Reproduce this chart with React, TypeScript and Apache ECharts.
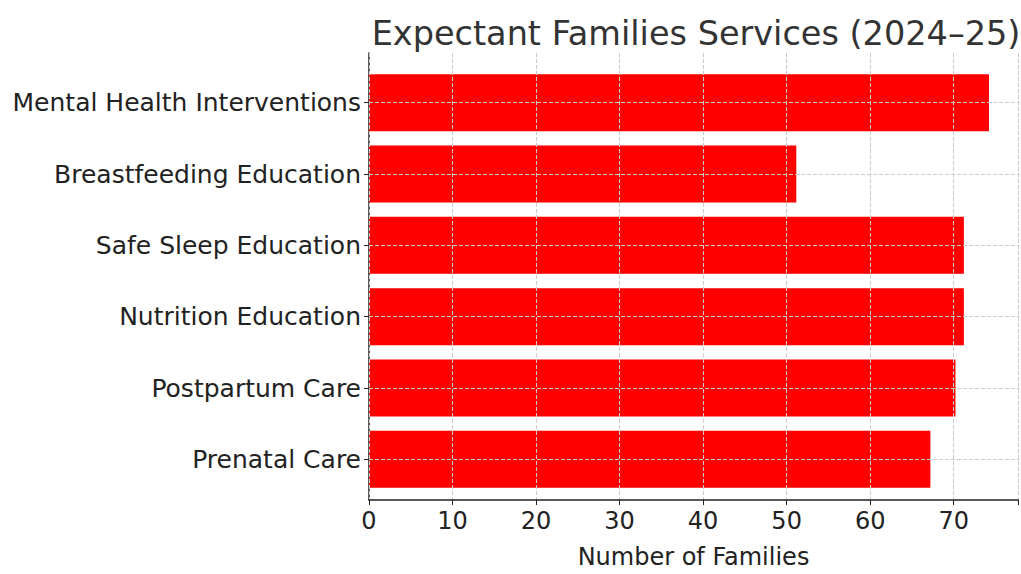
import React, { useEffect, useRef } from "react";
import * as echarts from "echarts";

const categories = [
  "Prenatal Care",
  "Postpartum Care",
  "Nutrition Education",
  "Safe Sleep Education",
  "Breastfeeding Education",
  "Mental Health Interventions",
];
const values = [67, 70, 71, 71, 51, 74];
const xTicks = [0, 10, 20, 30, 40, 50, 60, 70];

const FONT = "DejaVu Sans";

export default function App() {
  const ref = useRef<HTMLDivElement>(null);
  useEffect(() => {
    const chart = echarts.init(ref.current!, null, { renderer: "svg" });
    const xMax = 77.7;
    chart.setOption({
      animation: false,
      backgroundColor: "#ffffff",
      title: {
        text: "Expectant Families Services (2024–25)",
        left: 691,
        textAlign: "center",
        top: 11,
        textStyle: { fontFamily: FONT, fontSize: 33.5, fontWeight: "normal", color: "#333333" },
      },
      grid: [
        { left: 369, right: 1, top: 67, bottom: 79 },
        { left: 369, right: 1, top: 53, bottom: 65 },
      ],
      xAxis: [
        { gridIndex: 0, type: "value", min: 0, max: xMax, show: false },
        {
          gridIndex: 1,
          type: "value",
          min: 0,
          max: xMax,
          interval: 10,
          z: 10,
          axisLine: { show: true, lineStyle: { color: "#222222", width: 1.5 } },
          axisTick: { show: true, length: 5, inside: false, lineStyle: { color: "#222222" } },
          axisLabel: {
            fontFamily: FONT,
            fontSize: 24,
            color: "#222222",
            margin: 9,
            formatter: (v: number) => (xTicks.includes(v) ? String(v) : ""),
          },
          splitLine: { show: true, lineStyle: { color: "#cccccc", type: "dashed", width: 1 } },
          name: "Number of Families",
          nameLocation: "middle",
          nameGap: 45,
          nameTextStyle: { fontFamily: FONT, fontSize: 24, color: "#222222" },
        },
      ],
      yAxis: [
        {
          gridIndex: 0,
          type: "category",
          data: categories,
          axisLine: { show: false },
          axisTick: { show: true, alignWithLabel: true, length: 5, lineStyle: { color: "#222222" } },
          axisLabel: { fontFamily: FONT, fontSize: 25, color: "#222222", margin: 8 },
          splitLine: { show: false },
        },
        {
          gridIndex: 1,
          type: "value",
          min: 0,
          max: 1,
          axisLine: { show: true, lineStyle: { color: "#222222", width: 1.5 } },
          axisTick: { show: false },
          axisLabel: { show: false },
          splitLine: { show: false },
        },
      ],
      series: [
        {
          type: "bar",
          xAxisIndex: 0,
          yAxisIndex: 0,
          data: values,
          barCategoryGap: "20%",
          itemStyle: { color: "#ff0000" },
          markLine: {
            silent: true,
            symbol: "none",
            label: { show: false },
            lineStyle: { color: "#cccccc", type: "dashed", width: 1 },
            data: categories.map((c) => ({ yAxis: c })),
          },
        },
      ],
    });
    return () => chart.dispose();
  }, []);
  return (
    <div
      ref={ref}
      style={{ position: "fixed", left: 0, top: 0, width: 1021, height: 574 }}
    />
  );
}
